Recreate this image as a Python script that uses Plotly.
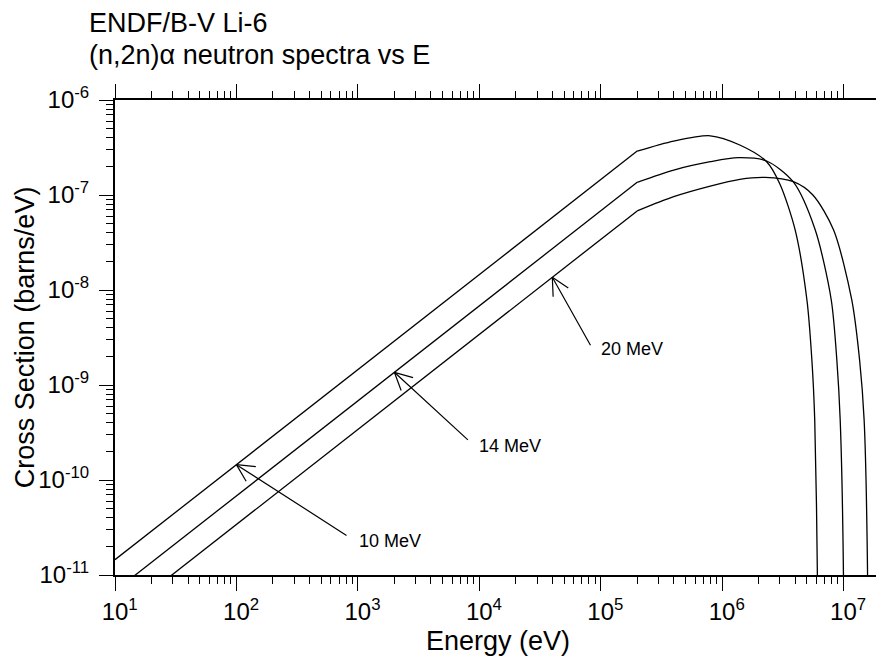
import numpy as np
import plotly.graph_objects as go

# ENDF/B-V Li-6 (n,2n)alpha secondary neutron spectra
e_10mev = [1e1, 2e5, 4e5, 8e5, 1.4e6, 2.33e6, 3e6, 4e6, 5e6, 5.5e6, 5.8e6, 6.1e6, 6.15e6]
s_10mev = [1.45e-11, 2.9e-7, 3.7e-7, 4.2e-7, 3.36e-7, 2.24e-7, 1.3e-7, 4.3e-8, 7.9e-9, 1.8e-9, 4.3e-10, 1e-11, 1e-13]

e_14mev = [1e1, 2e5, 4e5, 8e5, 1.36e6, 2.33e6, 3.85e6, 5.85e6, 7.93e6, 8.83e6, 9.4e6, 1.0e7, 1.005e7]
s_14mev = [6.8e-12, 1.36e-7, 1.83e-7, 2.24e-7, 2.47e-7, 2.28e-7, 1.38e-7, 4.3e-8, 7.9e-9, 1.8e-9, 4.3e-10, 1e-11, 1e-13]

e_20mev = [1e1, 2e5, 4e5, 8e5, 1.4e6, 2.26e6, 3.87e6, 5.6e6, 8.28e6, 1.17e7, 1.36e7, 1.48e7, 1.58e7, 1.59e7]
s_20mev = [3.4e-12, 6.8e-8, 9.6e-8, 1.24e-7, 1.46e-7, 1.53e-7, 1.38e-7, 1.0e-7, 4.3e-8, 7.9e-9, 1.8e-9, 4.3e-10, 1e-11, 1e-13]

# arrow labels: text, and the point on each curve the arrow touches
label_text = ["10 MeV", "14 MeV", "20 MeV"]
label_e = [1e2, 2e3, 4e4]
label_s = [1.45e-10, 1.36e-9, 1.36e-8]

# ticks (figure space on the left keeps the "10" centred under the tick)
x_major = [10**k for k in range(1, 8)]
x_ticktext = ["<sup>\u2007</sup>10<sup>%d</sup>" % k for k in range(1, 8)]
y_major = [10.0**k for k in range(-11, -5)]
y_ticktext = ["10<sup>%d</sup>" % k for k in range(-11, -5)]
x_minor = [m * 10**k for k in range(1, 8) for m in range(2, 10)]
y_minor = [m * 10.0**k for k in range(-11, -6) for m in range(2, 10)]

FONT = "Liberation Sans, Arial, Helvetica, sans-serif"

fig = go.Figure()
for e, s in [(e_10mev, s_10mev), (e_14mev, s_14mev), (e_20mev, s_20mev)]:
    # straight (E-proportional) part up to the kink, smooth hump after it
    fig.add_trace(go.Scatter(x=e[:2], y=s[:2], mode="lines", line=dict(color="black", width=1.3),
                             hoverinfo="skip"))
    fig.add_trace(go.Scatter(x=e[1:], y=s[1:], mode="lines",
                             line=dict(color="black", width=1.3, shape="spline", smoothing=0.8),
                             hoverinfo="skip"))

annotations = []

# title, two lines
annotations.append(dict(xref="paper", yref="paper", x=-0.0353, y=1.162, xanchor="left", yanchor="middle",
                        borderpad=0, text="ENDF/B-V Li-6", showarrow=False, font=dict(size=27, color="black")))
annotations.append(dict(xref="paper", yref="paper", x=-0.0353, y=1.0947, xanchor="left", yanchor="middle",
                        borderpad=0, text="(n,2n)\u03b1 neutron spectra vs E", showarrow=False,
                        font=dict(size=27, color="black")))

# axis titles
annotations.append(dict(xref="paper", yref="paper", x=0.5, y=-0.139, xanchor="center", yanchor="middle",
                        text="Energy (eV)", showarrow=False, font=dict(size=27, color="black")))
annotations.append(dict(xref="paper", yref="paper", x=-0.118, y=0.5, xanchor="center", yanchor="middle",
                        borderpad=0, text="Cross Section (barns/eV)", textangle=-90, showarrow=False,
                        font=dict(size=27, color="black")))

# arrows: shaft + open head, and the label next to the tail
shaft = [(111.6, 71.7), (75, 69), (39, 69.4)]
text_shift = [(121, -76), (83, -74), (47, -72)]
for txt, e, s, (dx, dy), (tx, ty) in zip(label_text, label_e, label_s, shaft, text_shift):
    x0, y0 = np.log10(e), np.log10(s)
    annotations.append(dict(x=x0, y=y0, ax=dx, ay=dy, text="", showarrow=True, arrowhead=0,
                            arrowwidth=1.2, arrowcolor="black"))
    th = np.arctan2(dy, dx)
    for d in (-0.47, 0.47):
        annotations.append(dict(x=x0, y=y0, ax=21 * np.cos(th + d), ay=21 * np.sin(th + d), text="",
                                showarrow=True, arrowhead=0, arrowwidth=1.2, arrowcolor="black"))
    annotations.append(dict(x=x0, y=y0, xshift=tx, yshift=ty, text=txt, showarrow=False,
                            xanchor="left", yanchor="middle", font=dict(size=18, color="black")))

axis_common = dict(showline=True, linewidth=2, linecolor="black", mirror="ticks", ticks="outside",
                   ticklen=14, tickwidth=1.3, tickcolor="black", showgrid=False, zeroline=False,
                   tickfont=dict(size=24, color="black"), tickmode="array")

fig.update_xaxes(type="log", range=[1, np.log10(2e7)], tickvals=x_major, ticktext=x_ticktext,
                 minor=dict(tickmode="array", tickvals=x_minor, ticks="outside", ticklen=7,
                            tickwidth=1.3, tickcolor="black", showgrid=False),
                 ticklabelstandoff=0, **axis_common)
fig.update_yaxes(type="log", range=[-11, -6], tickvals=y_major, ticktext=y_ticktext,
                 minor=dict(tickmode="array", tickvals=y_minor, ticks="outside", ticklen=7,
                            tickwidth=1.3, tickcolor="black", showgrid=False),
                 ticklabelstandoff=5, **axis_common)

# the page body adds an 8px margin, so the figure is shifted by that much
fig.update_layout(width=876, height=650, margin=dict(l=107, r=4, t=92, b=83, autoexpand=False),
                  paper_bgcolor="white", plot_bgcolor="white", showlegend=False,
                  font=dict(family=FONT, color="black"), annotations=annotations)

fig.write_html("out.html")
